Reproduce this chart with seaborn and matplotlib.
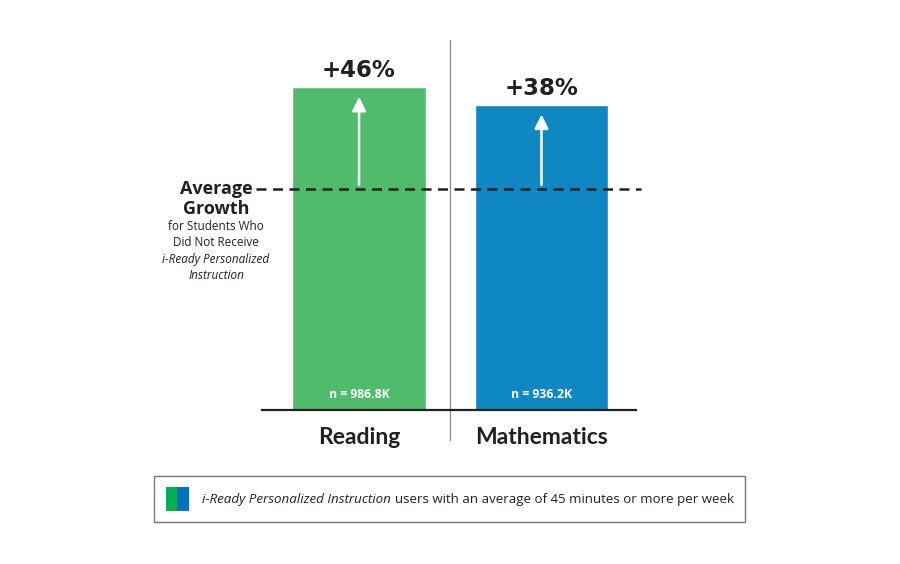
import matplotlib
matplotlib.use("Agg")
import matplotlib.pyplot as plt
import seaborn as sns
import pandas as pd
from matplotlib.patches import Rectangle

# ---- data ----
subjects = ["Reading", "Mathematics"]
growth_pct = [46, 38]                  # growth above average (in %)
relative_growth = [146, 138]           # growth relative to average (=100)
average_growth = 100
sample_labels = ["n = 986.8K", "n = 936.2K"]
bar_colors = ["#50BB6B", "#0E87C2"]
legend_colors = ["#00B050", "#0070C0"]

sns.set_theme(style="white")
plt.rcParams["font.family"] = ["Open Sans", "DejaVu Sans"]

W, H = 900, 564
fig = plt.figure(figsize=(W / 100, H / 100), dpi=100)
fig.patch.set_facecolor("white")

# axes spans pixels x 262..636, y 40..410
ax_left, ax_right = 262 / W, 636 / W
ax_bottom, ax_top = (H - 410) / H, (H - 40) / H
ax = fig.add_axes([ax_left, ax_bottom, ax_right - ax_left, ax_top - ax_bottom])

df = pd.DataFrame({"subject": subjects, "value": relative_growth})
sns.barplot(data=df, x="subject", y="value", hue="subject", palette=bar_colors,
            width=0.734, ax=ax, legend=False, saturation=1)

ax.set_xlim(-0.532, 1.518)
ax.set_ylim(0, 167.4)
ax.set_facecolor("none")
for s in ["left", "right", "top"]:
    ax.spines[s].set_visible(False)
ax.spines["bottom"].set_color("#222222")
ax.spines["bottom"].set_linewidth(1.6)
ax.set_xlabel("")
ax.set_ylabel("")
ax.set_yticks([])
ax.set_xticks([0, 1])
ax.set_xticklabels(subjects, fontsize=16.5, fontweight="bold", color="#231F20",
                   family=["Lato", "DejaVu Sans"])
ax.tick_params(axis="x", length=0, pad=12)

# dashed average line
ax.plot([-0.565, 1.545], [average_growth, average_growth], ls=(0, (4, 2.6)),
        color="#231F20", lw=1.8, clip_on=False)

# vertical separator
ax.plot([0.5, 0.5], [-13.6, 167.4], color="#888888", lw=0.9, clip_on=False)

# arrows and labels
for i, (g, v, n) in enumerate(zip(growth_pct, relative_growth, sample_labels)):
    ax.annotate("", xy=(i, v - 4.3), xytext=(i, average_growth + 1.8),
                arrowprops=dict(arrowstyle="-|>,head_length=0.7,head_width=0.35",
                                color="white", lw=1.8, shrinkA=0, shrinkB=0))
    ax.text(i, v + 2.2, f"+{g}%", ha="center", va="bottom", fontsize=16.5,
            fontweight="heavy", color="#231F20", family=["DejaVu Sans"])
    ax.text(i, 6.8, n, ha="center", va="center", fontsize=8.8,
            fontweight="bold", color="white")

# left annotation
def fy(py):
    return 1 - py / H

fig.text(216 / W, fy(189), "Average", ha="center", va="center",
         fontsize=13, fontweight="bold", color="#231F20")
fig.text(216 / W, fy(209), "Growth", ha="center", va="center",
         fontsize=13, fontweight="bold", color="#231F20")
fig.text(216 / W, fy(226.5), "for Students Who", ha="center", va="center",
         fontsize=8.5, color="#231F20")
fig.text(216 / W, fy(243), "Did Not Receive", ha="center", va="center",
         fontsize=8.5, color="#231F20")
fig.text(216 / W, fy(259.5), "i-Ready Personalized", ha="center", va="center",
         fontsize=8.5, style="italic", color="#231F20")
fig.text(216 / W, fy(276), "Instruction", ha="center", va="center",
         fontsize=8.5, style="italic", color="#231F20")

# legend box
fig.patches.append(Rectangle((154 / W, fy(522)), (745 - 154) / W, (522 - 476) / H,
                             transform=fig.transFigure, facecolor="white",
                             edgecolor="#777777", lw=1.0))
fig.patches.append(Rectangle((166 / W, fy(511)), 11 / W, 24 / H,
                             transform=fig.transFigure, facecolor=legend_colors[0],
                             edgecolor="none"))
fig.patches.append(Rectangle((177 / W, fy(511)), 12 / W, 24 / H,
                             transform=fig.transFigure, facecolor=legend_colors[1],
                             edgecolor="none"))
t1 = fig.text(202 / W, fy(499), "i-Ready Personalized Instruction", ha="left",
              va="center", fontsize=9.6, style="italic", color="#231F20")
fig.canvas.draw()
bb = t1.get_window_extent()
fig.text(bb.x1 / W + 4 / W, fy(499), "users with an average of 45 minutes or more per week",
         ha="left", va="center", fontsize=9.5, color="#231F20")

fig.savefig("out.png", dpi=100, facecolor="white")
